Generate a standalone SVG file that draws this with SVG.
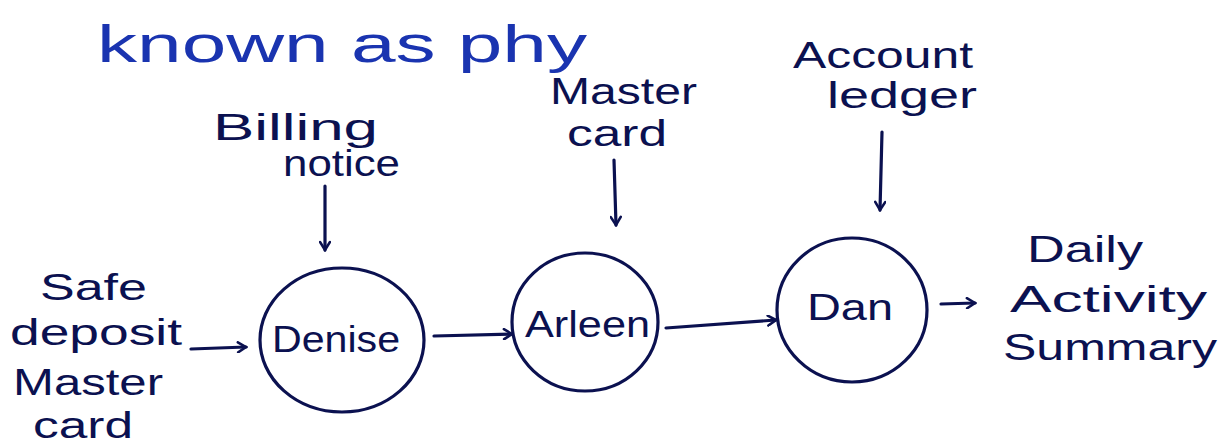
<svg xmlns="http://www.w3.org/2000/svg" width="1227" height="448" viewBox="0 0 1227 448">
<defs>
<style>
.ink{fill:none;stroke:#0b1150;stroke-width:3.2;stroke-linecap:round;stroke-linejoin:round}
.t{font-family:"Liberation Sans","DejaVu Sans",sans-serif;fill:#0b1150;font-size:36px}
.top{font-family:"Liberation Sans","DejaVu Sans",sans-serif;fill:#1a34b0;font-size:52px}
</style>
<marker id="ah" viewBox="0 0 12 12" refX="10" refY="6" markerWidth="12" markerHeight="12" markerUnits="userSpaceOnUse" orient="auto">
<path d="M2,1 L10,6 L2,11" fill="none" stroke="#0b1150" stroke-width="2.6" stroke-linecap="round"/>
</marker>
</defs>
<rect width="1227" height="448" fill="#ffffff"/>
<text class="top" x="97" y="62" textLength="490" lengthAdjust="spacingAndGlyphs">known as phy</text>
<g id="source">
<text class="t" x="40" y="300" textLength="107" lengthAdjust="spacingAndGlyphs">Safe</text>
<text class="t" x="10" y="345" textLength="172" lengthAdjust="spacingAndGlyphs">deposit</text>
<text class="t" x="13" y="395" textLength="150" lengthAdjust="spacingAndGlyphs">Master</text>
<text class="t" x="33" y="438" textLength="100" lengthAdjust="spacingAndGlyphs">card</text>
</g>
<g id="billing-notice">
<text class="t" x="213" y="140" font-size="32" textLength="165" lengthAdjust="spacingAndGlyphs">Billing</text>
<text class="t" x="283" y="176" font-size="26" textLength="117" lengthAdjust="spacingAndGlyphs">notice</text>
</g>
<g id="master-card">
<text class="t" x="550" y="104" font-size="32" textLength="147" lengthAdjust="spacingAndGlyphs">Master</text>
<text class="t" x="567" y="146" font-size="28" textLength="100" lengthAdjust="spacingAndGlyphs">card</text>
</g>
<g id="account-ledger">
<text class="t" x="793" y="68" textLength="180" lengthAdjust="spacingAndGlyphs">Account</text>
<text class="t" x="827" y="108" textLength="150" lengthAdjust="spacingAndGlyphs">ledger</text>
</g>
<g id="denise">
<ellipse class="ink" cx="342" cy="340" rx="82" ry="72"/>
<text class="t" x="272" y="352" textLength="128" lengthAdjust="spacingAndGlyphs">Denise</text>
</g>
<g id="arleen">
<ellipse class="ink" cx="585" cy="322" rx="73" ry="69"/>
<text class="t" x="525" y="337" textLength="125" lengthAdjust="spacingAndGlyphs">Arleen</text>
</g>
<g id="dan">
<ellipse class="ink" cx="852" cy="310" rx="75" ry="72"/>
<text class="t" x="807" y="320" textLength="86" lengthAdjust="spacingAndGlyphs">Dan</text>
</g>
<g id="daily-activity-summary">
<text class="t" x="1027" y="262" textLength="116" lengthAdjust="spacingAndGlyphs">Daily</text>
<text class="t" x="1010" y="312" textLength="197" lengthAdjust="spacingAndGlyphs">Activity</text>
<text class="t" x="1003" y="360" textLength="214" lengthAdjust="spacingAndGlyphs">Summary</text>
</g>
<g id="connectors">
<path class="ink" d="M191,349 L246,347" marker-end="url(#ah)"/>
<path class="ink" d="M325,186 L325,250" marker-end="url(#ah)"/>
<path class="ink" d="M614,160 L616,225" marker-end="url(#ah)"/>
<path class="ink" d="M882,132 L880,210" marker-end="url(#ah)"/>
<path class="ink" d="M434,336 L512,334" marker-end="url(#ah)"/>
<path class="ink" d="M666,328 L776,320" marker-end="url(#ah)"/>
<path class="ink" d="M941,304 L975,303" marker-end="url(#ah)"/>
</g>
</svg>
